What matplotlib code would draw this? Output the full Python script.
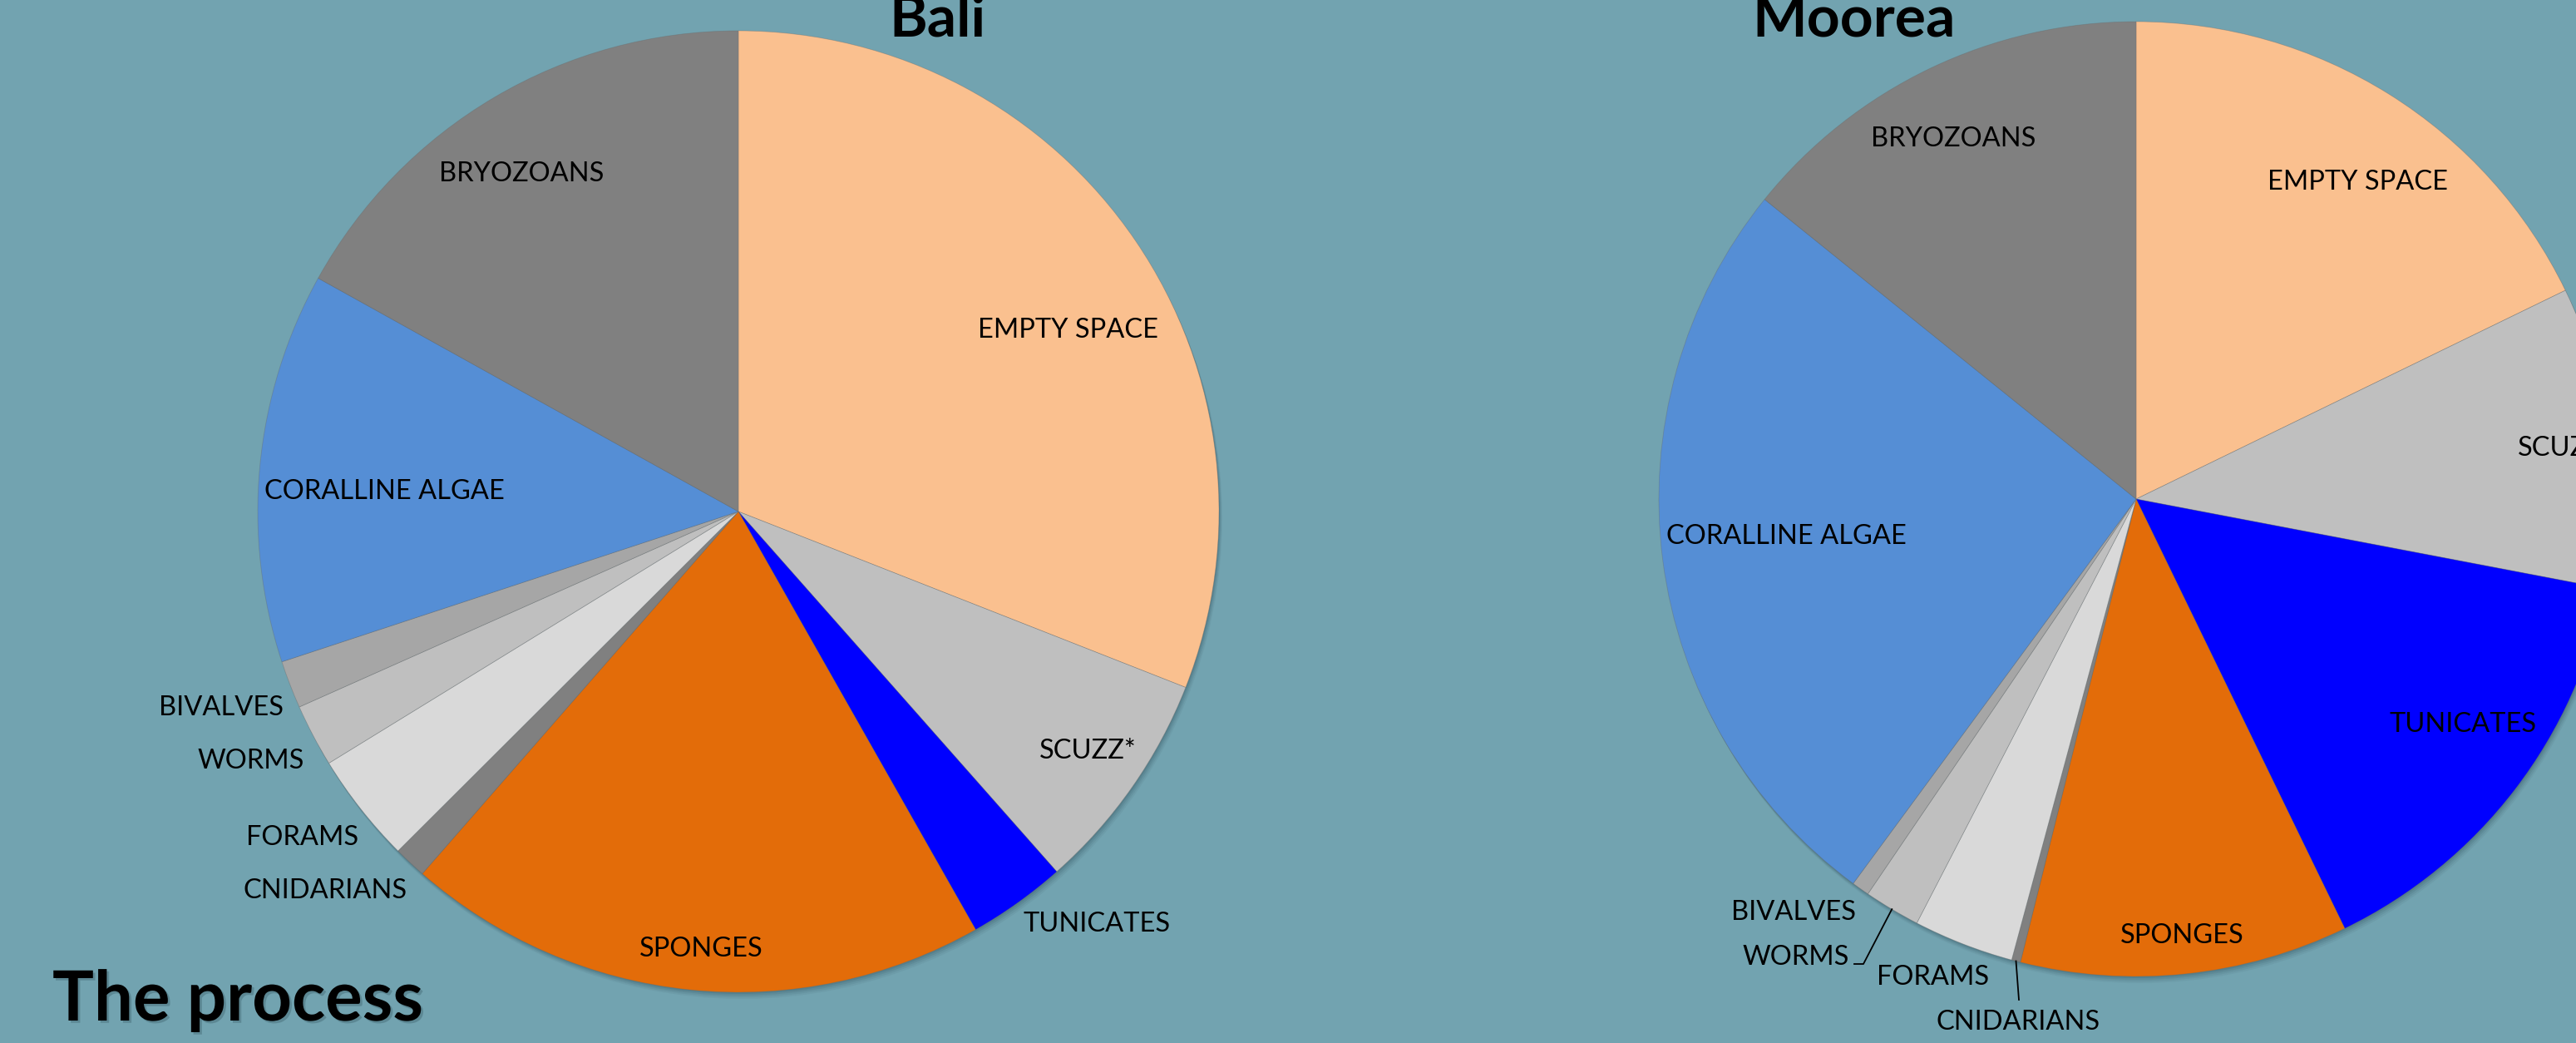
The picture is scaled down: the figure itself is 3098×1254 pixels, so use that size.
import numpy as np
import matplotlib.pyplot as plt
import matplotlib.patches as mpatches
import matplotlib.patheffects as pe

W, H = 3098, 1254
BG = '#72A3B0'

# data (percent of cover, clockwise from 12 o'clock)
categories = ['EMPTY SPACE', 'SCUZZ*', 'TUNICATES', 'SPONGES', 'CNIDARIANS',
              'FORAMS', 'WORMS', 'BIVALVES', 'CORALLINE ALGAE', 'BRYOZOANS']
bali_pct = [30.9, 7.5, 3.3, 19.6, 1.1, 3.7, 2.1, 1.6, 13.1, 16.9]
moorea_pct = [17.8, 10.2, 14.8, 11.1, 0.3, 3.4, 1.9, 0.6, 25.7, 14.2]
slice_colors = ['#FAC08F', '#BFBFBF', '#0000FF', '#E36C09', '#808080',
                '#D9D9D9', '#BFBFBF', '#A6A6A6', '#558ED5', '#808080']

# layout (pixels from top-left): label x, baseline y, alignment
bali_labels = {
    'BRYOZOANS': (627, 218, 'center'),
    'EMPTY SPACE': (1285, 406, 'center'),
    'CORALLINE ALGAE': (462, 600, 'center'),
    'SCUZZ*': (1308, 912, 'center'),
    'TUNICATES': (1319, 1120, 'center'),
    'SPONGES': (843, 1150, 'center'),
    'BIVALVES': (341, 860, 'right'),
    'WORMS': (366, 924, 'right'),
    'FORAMS': (431, 1016, 'right'),
    'CNIDARIANS': (490, 1080, 'right'),
}
moorea_labels = {
    'BRYOZOANS': (2349, 176, 'center'),
    'EMPTY SPACE': (2836, 228, 'center'),
    'CORALLINE ALGAE': (2148, 654, 'center'),
    'SCUZZ*': (3028, 548, 'left'),
    'TUNICATES': (2962, 880, 'center'),
    'SPONGES': (2624, 1134, 'center'),
    'BIVALVES': (2232, 1106, 'right'),
    'WORMS': (2224, 1160, 'right'),
    'FORAMS': (2325, 1184, 'center'),
    'CNIDARIANS': (2427, 1238, 'center'),
}
# leader lines: from the wedge rim to these points
moorea_leaders = {
    'WORMS': [(2241, 1159), (2230, 1159)],
    'CNIDARIANS': [(2428, 1202)],
}

plt.rcParams['font.family'] = ['Lato', 'DejaVu Sans']

fig = plt.figure(figsize=(W / 100, H / 100), dpi=100, facecolor=BG)
ax = fig.add_axes([0, 0, 1, 1])
ax.set_facecolor(BG)


def draw_pie(values, center, radius, labels, leaders=None):
    cx, cy = center[0], H - center[1]
    # soft drop shadow behind the pie
    for off, a in [(8, 0.06), (6, 0.08), (4, 0.10), (2, 0.12)]:
        ax.add_patch(mpatches.Circle((cx + off * 0.5, cy - off), radius,
                                     color='#1d3a44', alpha=a, lw=0, zorder=1))
    wedges, _ = ax.pie(values, colors=slice_colors, startangle=90, counterclock=False,
                       center=(cx, cy), radius=radius, frame=True,
                       wedgeprops=dict(linewidth=0.6, edgecolor=(0.4, 0.4, 0.4, 0.35), zorder=2))
    for name, (x, y, ha) in labels.items():
        ax.text(x, H - y, name, ha=ha, va='baseline', fontsize=23.5, color='black', zorder=5)
    if leaders:
        for name, pts in leaders.items():
            w = wedges[categories.index(name)]
            th = np.deg2rad((w.theta1 + w.theta2) / 2)
            xs = [cx + radius * np.cos(th)] + [p[0] for p in pts]
            ys = [cy + radius * np.sin(th)] + [H - p[1] for p in pts]
            ax.plot(xs, ys, color='black', lw=1.3, zorder=4)
    return wedges


draw_pie(bali_pct, (888, 615), 578, bali_labels)
draw_pie(moorea_pct, (2569, 600), 574, moorea_labels, moorea_leaders)

ax.text(1128, H - 43, 'Bali', ha='center', va='baseline', fontsize=50,
        fontweight='bold', color='black', zorder=6)
ax.text(2230, H - 44, 'Moorea', ha='center', va='baseline', fontsize=50,
        fontweight='bold', color='black', zorder=6)
ax.text(63, H - 1227, 'The process', ha='left', va='baseline', fontsize=60,
        fontweight='bold', color='black', zorder=6,
        path_effects=[pe.withSimplePatchShadow(offset=(2, -2), shadow_rgbFace='#1d3a44', alpha=0.25)])

ax.set_xlim(0, W)
ax.set_ylim(0, H)
ax.set_aspect('auto')
ax.axis('off')

fig.savefig('out.png', dpi=100, facecolor=BG)
